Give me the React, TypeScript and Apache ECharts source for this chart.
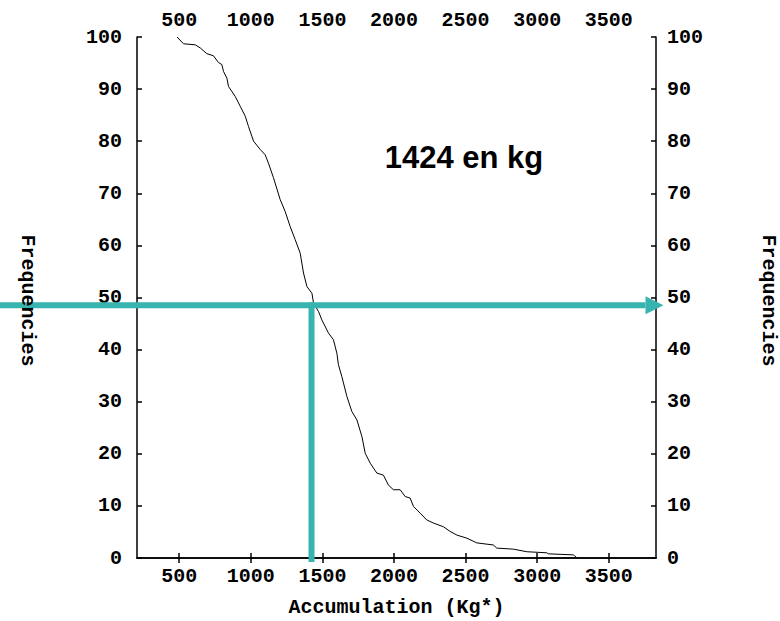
import React, { useEffect, useRef } from "react";
import * as echarts from "echarts";

// Horizontal scale (kg) and its labelled ticks
const X_MIN = 205;
const X_MAX = 3830;
const X_TICKS = [500, 1000, 1500, 2000, 2500, 3000, 3500];

// Vertical scale (%)
const Y_MIN = 0;
const Y_MAX = 100;
const Y_STEP = 10;

// Cumulative frequency curve: share of samples (%) at or above each accumulation (kg)
const accumulation = [
  485, 530, 612, 647, 693, 739, 774, 798, 809, 833, 844, 891, 926, 961, 984,
  1019, 1066, 1100, 1123, 1158, 1205, 1240, 1275, 1310, 1345, 1368, 1392, 1427,
  1438, 1473, 1496, 1542, 1577, 1601, 1612, 1636, 1647, 1671, 1706, 1741, 1776,
  1799, 1834, 1880, 1926, 1961, 1996, 2043, 2078, 2113, 2136, 2183, 2229, 2276,
  2345, 2392, 2439, 2509, 2579, 2694, 2718, 2834, 2928, 3067, 3078, 3253, 3279,
];
const frequency = [
  100, 98.7, 98.5, 97.9, 96.8, 96.4, 95.1, 94.7, 93.4, 92.1, 90.5, 88.6, 86.7,
  84.8, 82.8, 80.0, 78.4, 77.4, 75.8, 73.0, 68.8, 66.5, 63.6, 61.1, 58.5, 54.7,
  52.1, 50.8, 48.9, 47.3, 45.7, 43.2, 41.9, 39.3, 37.1, 34.8, 33.6, 31.0, 28.1,
  26.5, 23.3, 20.1, 18.2, 16.3, 15.9, 14.0, 13.1, 13.1, 11.8, 11.5, 9.9, 8.6,
  7.3, 6.7, 6.0, 5.1, 4.4, 3.8, 2.9, 2.5, 1.9, 1.7, 1.2, 1.0, 0.8, 0.6, 0,
];

// Median reading
const MEDIAN_KG = 1424;
const MEDIAN_LEVEL = 48.5;
const MEDIAN_TEXT = `${MEDIAN_KG} en kg`;

const X_NAME = "Accumulation (Kg*)";
const Y_NAME = "Frequencies";

const TEAL = "#38b4b0";
const MONO = "'Liberation Mono', 'DejaVu Sans Mono', monospace";

const axisLine = { show: true, lineStyle: { color: "#000", width: 1.5 } };
const axisTick = { show: true, inside: true, length: 5, lineStyle: { color: "#000", width: 1.5 } };
const tickFont = {
  color: "#000",
  fontFamily: MONO,
  fontWeight: "bold" as const,
  fontSize: 20,
  formatter: (v: number) => String(v),
};

export default function App() {
  const ref = useRef<HTMLDivElement>(null);

  useEffect(() => {
    if (!ref.current) return;
    const chart = echarts.init(ref.current, undefined, { renderer: "svg" });

    const xAxisBase = {
      type: "value" as const,
      min: X_MIN,
      max: X_MAX,
      axisLine,
      axisTick: { ...axisTick, customValues: X_TICKS },
      splitLine: { show: false },
    };
    const yAxisBase = {
      type: "value" as const,
      min: Y_MIN,
      max: Y_MAX,
      interval: Y_STEP,
      axisLine,
      axisTick,
      splitLine: { show: false },
    };

    chart.setOption({
      animation: false,
      backgroundColor: "#fff",
      grid: { left: 137, right: 124, top: 37, bottom: 63, containLabel: false },
      xAxis: [
        {
          ...xAxisBase,
          position: "bottom",
          axisLabel: { ...tickFont, margin: 8, customValues: X_TICKS },
        },
        {
          ...xAxisBase,
          position: "top",
          axisLabel: { ...tickFont, margin: 7, customValues: X_TICKS },
        },
      ],
      yAxis: [
        { ...yAxisBase, position: "left", axisLabel: { ...tickFont, margin: 15 } },
        { ...yAxisBase, position: "right", axisLabel: { ...tickFont, margin: 11 } },
      ],
      series: [
        {
          type: "line",
          symbol: "none",
          silent: true,
          lineStyle: { color: "#000", width: 1 },
          data: accumulation.map((x, i) => [x, frequency[i]]),
          z: 2,
        },
      ],
    });

    // Median guide lines, placed through the grid's own scales
    const [mx, my] = chart.convertToPixel({ gridIndex: 0 }, [MEDIAN_KG, MEDIAN_LEVEL]) as number[];
    const [rightX, bottomY] = chart.convertToPixel({ gridIndex: 0 }, [X_MAX, Y_MIN]) as number[];
    const [leftX, topY] = chart.convertToPixel({ gridIndex: 0 }, [X_MIN, Y_MAX]) as number[];
    const midY = (topY + bottomY) / 2;
    const midX = (leftX + rightX) / 2;
    const headLen = 18;
    const tipX = rightX + 7.5;

    chart.setOption({
      graphic: [
        {
          type: "line",
          z: 10,
          shape: { x1: 0, y1: my, x2: tipX - headLen, y2: my },
          style: { stroke: TEAL, lineWidth: 6 },
        },
        {
          type: "polygon",
          z: 10,
          shape: {
            points: [
              [tipX - headLen, my - 9],
              [tipX, my],
              [tipX - headLen, my + 9],
            ],
          },
          style: { fill: TEAL },
        },
        {
          type: "line",
          z: 10,
          shape: { x1: mx, y1: my - 3, x2: mx, y2: bottomY + 4 },
          style: { stroke: TEAL, lineWidth: 6 },
        },
        {
          type: "text",
          z: 11,
          x: 464,
          y: 157,
          style: {
            text: MEDIAN_TEXT,
            fill: "#000",
            font: "bold 31px 'Liberation Sans', Arial, sans-serif",
            textAlign: "center",
            textVerticalAlign: "middle",
          },
        },
        {
          type: "text",
          z: 11,
          x: midX,
          y: 607,
          style: {
            text: X_NAME,
            fill: "#000",
            font: `bold 20px ${MONO}`,
            textAlign: "center",
            textVerticalAlign: "middle",
          },
        },
        {
          type: "text",
          z: 11,
          x: 27,
          y: midY + 3,
          rotation: -Math.PI / 2,
          style: {
            text: Y_NAME,
            fill: "#000",
            font: `bold 20px ${MONO}`,
            textAlign: "center",
            textVerticalAlign: "middle",
          },
        },
        {
          type: "text",
          z: 11,
          x: 768,
          y: midY + 3,
          rotation: -Math.PI / 2,
          style: {
            text: Y_NAME,
            fill: "#000",
            font: `bold 20px ${MONO}`,
            textAlign: "center",
            textVerticalAlign: "middle",
          },
        },
      ],
    });

    return () => chart.dispose();
  }, []);

  return (
    <div
      ref={ref}
      style={{ position: "fixed", left: 0, top: 0, width: 780, height: 621, background: "#fff" }}
    />
  );
}
